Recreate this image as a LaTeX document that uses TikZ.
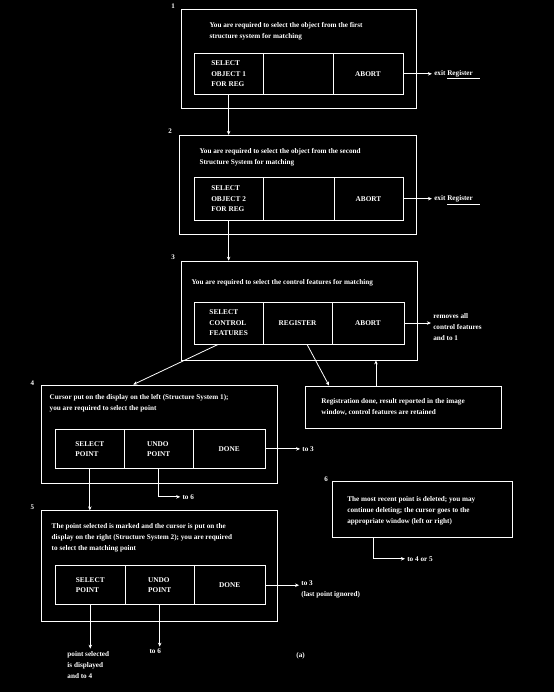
\documentclass[tikz,border=0pt]{standalone}
\usepackage{fontspec}
\setmainfont{Liberation Serif}
\usepackage{tikz}
\usetikzlibrary{positioning, arrows.meta}

\tikzset{
  frame/.style={draw=white, line width=0.8pt, inner sep=0pt},
  cell/.style={draw=white, line width=0.8pt, inner sep=0pt, text=white, align=left,
    font=\fontsize{7.3}{10.5}\selectfont\bfseries},
  txt/.style={anchor=west, align=left, text=white, inner sep=2pt,
    font=\fontsize{7.2}{11}\selectfont\bfseries},
  num/.style={text=white, inner sep=0pt, font=\fontsize{7}{7}\selectfont\bfseries},
}

\begin{document}
\begin{tikzpicture}[x=1pt, y=-1pt, >={Stealth[length=4pt, width=3.5pt]},
    every path/.style={draw=white, line width=0.8pt}]
    \useasboundingbox (0,0) rectangle (554,692);
    \fill[black] (0,0) rectangle (554,692);
    % ---------------- 1: first structure system
    \node[num] (n1) at (173,6) {1};
    \node[frame, minimum width=235pt, minimum height=99pt] (b1) at (298.5,58.5) {};
    \node[txt] (b1t) at (207,30.5) {You are required to select the object from the first\\structure system for matching};
    \node[cell, minimum width=69pt, minimum height=41pt] (b1c1) at (228.5,73.5) {SELECT\\OBJECT 1\\FOR REG};
    \node[cell, minimum width=70pt, minimum height=41pt] (b1c2) at (298,73.5) {};
    \node[cell, minimum width=70pt, minimum height=41pt] (b1c3) at (368,73.5) {ABORT};
    \node[txt] (x1) at (432,74) {exit \underline{Register\hspace{7pt}}};
    \draw[->] (b1c3.east) -- (b1c3.east -| x1.west);
    % ---------------- 2: second structure system
    \node[num] (n2) at (170,131) {2};
    \node[frame, minimum width=237pt, minimum height=99pt] (b2) at (297.5,184.5) {};
    \node[txt] (b2t) at (197,157.5) {You are required to select the object from the second\\Structure System for matching};
    \node[cell, minimum width=69pt, minimum height=43pt] (b2c1) at (228.5,198.5) {SELECT\\OBJECT 2\\FOR REG};
    \node[cell, minimum width=71pt, minimum height=43pt] (b2c2) at (298.5,198.5) {};
    \node[cell, minimum width=69pt, minimum height=43pt] (b2c3) at (368.5,198.5) {ABORT};
    \node[txt] (x2) at (432,200) {exit \underline{Register\hspace{7pt}}};
    \draw[->] (b2c3.east) -- (b2c3.east -| x2.west);
    \draw[->] (b1c1.south) -- (b1c1.south |- b2.north);
    % ---------------- 3: control features
    \node[num] (n3) at (173,257) {3};
    \node[frame, minimum width=236pt, minimum height=99pt] (b3) at (299,310.5) {};
    \node[txt] (b3t) at (189,283) {You are required to select the control features for matching};
    \node[cell, minimum width=69pt, minimum height=42pt] (b3c1) at (228.5,323) {SELECT\\CONTROL\\FEATURES};
    \node[cell, minimum width=69pt, minimum height=42pt] (b3c2) at (297.5,323) {REGISTER};
    \node[cell, minimum width=72pt, minimum height=42pt] (b3c3) at (368,323) {ABORT};
    \node[txt] (rem) at (431,327) {removes all\\control features\\and to 1};
    \draw[->] (b3c3.east) -- (b3c3.east -| rem.west);
    \draw[->] (b2c1.south) -- (b2c1.south |- b3.north);
    % ---------------- registration result
    \node[frame, minimum width=197pt, minimum height=42pt] (reg) at (403.5,407) {};
    \node[txt] (regt) at (319,407.5) {Registration done, result reported in the image\\window, control features are retained};
    \draw[->] (b3c2.south -| 307,0) -- (reg.north -| 329,0);
    \draw[->] (reg.north -| 376,0) -- (b3.south -| 376,0);
    % ---------------- 4: point on the left
    \node[num] (n4) at (32,383) {4};
    \node[frame, minimum width=236pt, minimum height=99pt] (b4) at (159,434.5) {};
    \node[txt] (b4t) at (47,403.5) {Cursor put on the display on the left (Structure System 1);\\you are required to select the point};
    \node[cell, minimum width=69pt, minimum height=40pt] (b4c1) at (89.5,449) {SELECT\\POINT};
    \node[cell, minimum width=69pt, minimum height=40pt] (b4c2) at (158.5,449) {UNDO\\POINT};
    \node[cell, minimum width=72pt, minimum height=40pt] (b4c3) at (229,449) {DONE};
    \node[txt] (t3a) at (300,449) {to 3};
    \node[txt] (t6a) at (180,497) {to 6};
    \draw[->] (b4c3.east) -- (t3a.west);
    \draw[->] (b4c2.south) |- (t6a.west);
    \draw[->] (b3c1.south -| 218,0) -- (b4.north -| 133,0);
    % ---------------- 5: point on the right
    \node[num] (n5) at (32,507) {5};
    \node[frame, minimum width=236pt, minimum height=111pt] (b5) at (159,566.5) {};
    \node[txt] (b5t) at (49,538) {The point selected is marked and the cursor is put on the\\display on the right (Structure System 2); you are required\\to select the matching point};
    \node[cell, minimum width=70pt, minimum height=39pt] (b5c1) at (90,585.5) {SELECT\\POINT};
    \node[cell, minimum width=69pt, minimum height=39pt] (b5c2) at (159.5,585.5) {UNDO\\POINT};
    \node[cell, minimum width=71pt, minimum height=39pt] (b5c3) at (229.5,585.5) {DONE};
    \node[txt] (t3b) at (299,590) {to 3\\(last point ignored)};
    \node[txt, anchor=north] (sel) at (88,649) {point selected\\is displayed\\and to 4};
    \node[txt, anchor=north] (t6b) at (155,647) {to 6};
    \draw[->] (b5c3.east) -- (b5c3.east -| t3b.west);
    \draw[->] (b5c1.south) -- (b5c1.south |- sel.north);
    \draw[->] (b5c2.south) -- (b5c2.south |- t6b.north);
    \draw[->] (b4c1.south) -- (b4c1.south |- b5.north);
    \node[txt] (cap) at (294,656) {(a)};
    % ---------------- 6: undo
    \node[num] (n6) at (326,479) {6};
    \node[frame, minimum width=181pt, minimum height=56pt] (b6) at (422.5,510) {};
    \node[txt] (b6t) at (345,510.5) {The most recent point is deleted; you may\\continue deleting; the cursor goes to the\\appropriate window (left or right)};
    \node[txt] (t45) at (405,559) {to 4 or 5};
    \draw[->] (b6.south -| 373,0) |- (t45.west);
\end{tikzpicture}
\end{document}
